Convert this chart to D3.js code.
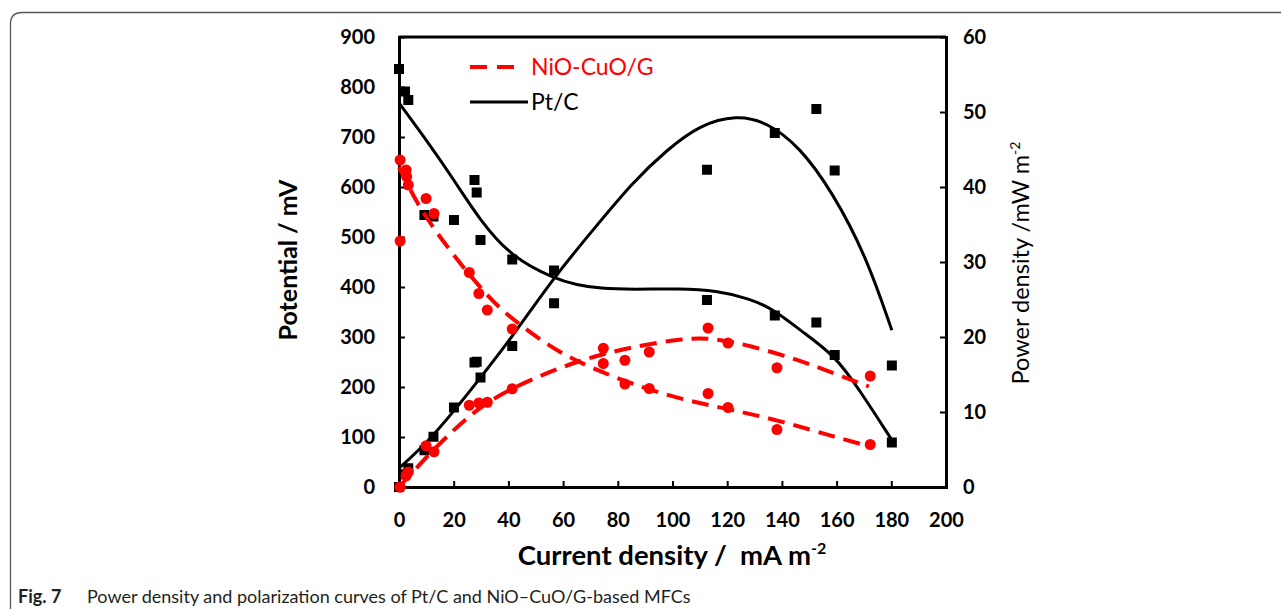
<!DOCTYPE html>
<html>
<head>
<meta charset="utf-8">
<script src="https://cdn.jsdelivr.net/npm/d3@7"></script>
<style>
  body { margin: 0; background: #fff; }
  svg { display: block; }
  text { font-family: Lato, "Open Sans", sans-serif; }
</style>
</head>
<body>
<svg id="chart" width="1281" height="609"></svg>
<script>
// Pt/C measured points (current density mA m-2, potential mV, power mW m-2)
const ptcCurrent   = [0, 2.2, 3.4, 9.3, 12.6, 20.1, 27.6, 28.4, 29.8, 41.4, 56.7, 112.6, 137.4, 152.6, 159.3, 180.2];
const ptcPotential = [836, 791, 774, 544, 541, 534, 614, 589, 494, 455, 433, 374, 343, 329, 264, 89];
const ptcPower     = [0, 1.7, 2.5, 4.9, 6.7, 10.6, 16.6, 16.7, 14.6, 18.8, 24.5, 42.3, 47.2, 50.4, 42.2, 16.2];

// NiO-CuO/G measured points
const nioCurrent   = [0.4, 0.4, 2.6, 2.8, 3.4, 9.9, 12.8, 25.7, 29.2, 32.3, 41.4, 74.7, 82.6, 91.5, 113, 120.3, 138.2, 172.3];
const nioPotential = [654, 492, 634, 621, 604, 577, 547, 429, 387, 354, 316, 247, 206, 197, 187, 159, 115, 85];
const nioPower     = [0, 0, 1.5, 1.7, 2.0, 5.5, 4.7, 10.9, 11.2, 11.3, 13.1, 18.5, 16.9, 18.0, 21.2, 19.2, 15.9, 14.8];

// trend lines: [current, value]
const ptcPotentialFit = [[0,768],[10,694],[20,615],[30,530],[41.4,459],[56.7,417],[65,404],[73.4,397],[85.6,395],[102.7,397],[116,393],[128.2,377],[137.4,354],[146.5,314],[159.3,264],[168.4,194],[180.2,94]];
const ptcPowerFit     = [[0,2.5],[10,5.8],[20.5,10.3],[29.2,14.3],[41.4,20.0],[56.7,28.0],[71,34.3],[85.6,40.7],[97.8,44.9],[110,48.3],[123.4,49.6],[134.3,48.7],[146.5,45.4],[158.7,39.2],[170.9,30.7],[180.2,20.9]];
const nioPotentialFit = [[0,640],[5.8,575],[12.5,518],[21.1,456],[28.4,407],[36.9,356],[46.7,314],[58.8,268],[71,237],[85.6,205],[103.9,174],[122.2,154],[140.4,131],[158.7,101],[172.3,81]];
const nioPowerFit     = [[0,0],[10,4.0],[19.9,7.6],[29.6,10.7],[41.4,13.2],[54,15.2],[65,16.7],[73.4,17.6],[85.6,18.7],[103.9,19.8],[113.6,19.9],[128.2,18.9],[146.5,16.9],[158.7,15.2],[171.8,13.4]];

const xTicks  = d3.range(0, 201, 20);
const yTicks  = d3.range(0, 901, 100);
const y2Ticks = d3.range(0, 61, 10);

const svg = d3.select("#chart");
const plotLeft = 399, plotRight = 946, plotTop = 37, plotBottom = 487;

const x  = d3.scaleLinear().domain([0, 200]).range([plotLeft, plotRight]);
const y  = d3.scaleLinear().domain([0, 900]).range([plotBottom, plotTop]);
const y2 = d3.scaleLinear().domain([0, 60]).range([plotBottom, plotTop]);

// outer figure frame (rounded corner, runs off page)
svg.append("path")
   .attr("d", "M10.5,609 V24 Q10.5,12.5 22,12.5 H1281")
   .attr("fill", "none")
   .attr("stroke", "#555")
   .attr("stroke-width", 1.3);

// top border of plot
svg.append("line")
   .attr("x1", plotLeft).attr("x2", plotRight)
   .attr("y1", plotTop).attr("y2", plotTop)
   .attr("stroke", "#000")
   .attr("stroke-width", 3);

const styleAxis = (g) => {
    g.attr("font-family", "Lato, sans-serif")
     .attr("font-size", 20)
     .attr("font-weight", "bold");
    g.select(".domain").attr("stroke-width", 3).attr("stroke-linecap", "square");
    g.selectAll(".tick line").attr("stroke-width", 2);
    g.selectAll(".tick text").attr("fill", "#000");
};

svg.append("g")
   .attr("transform", `translate(0,${plotBottom})`)
   .call(d3.axisBottom(x).tickValues(xTicks).tickSizeInner(-6).tickSizeOuter(0).tickPadding(26))
   .call(styleAxis);

svg.append("g")
   .attr("transform", `translate(${plotLeft},0)`)
   .call(d3.axisLeft(y).tickValues(yTicks).tickSizeInner(-6).tickSizeOuter(0).tickPadding(24))
   .call(styleAxis);

svg.append("g")
   .attr("transform", `translate(${plotRight},0)`)
   .call(d3.axisRight(y2).tickValues(y2Ticks).tickSizeInner(-6).tickSizeOuter(0).tickPadding(17))
   .call(styleAxis);

// axis titles
svg.append("text")
   .attr("transform", "translate(297,260) rotate(-90)")
   .attr("text-anchor", "middle")
   .attr("font-size", 25)
   .attr("font-weight", "bold")
   .text("Potential / mV");

const rTitle = svg.append("text")
   .attr("transform", "translate(1029,263) rotate(-90)")
   .attr("text-anchor", "middle")
   .attr("font-size", 23.5);
rTitle.append("tspan").text("Power density /mW m");
rTitle.append("tspan").attr("dy", -9).attr("font-size", 14).text("-2");

const xTitle = svg.append("text")
   .attr("x", 672).attr("y", 565)
   .attr("text-anchor", "middle")
   .attr("font-size", 27.5)
   .attr("font-weight", "bold")
   .style("white-space", "pre");
xTitle.append("tspan").text("Current density /  mA m");
xTitle.append("tspan").attr("dy", -11).attr("font-size", 16).text("-2");

// curves
const lineX = d3.line().x(d => x(d[0])).curve(d3.curveBasis);

svg.append("path")
   .attr("d", lineX.y(d => y(d[1]))(ptcPotentialFit))
   .attr("fill", "none").attr("stroke", "#000").attr("stroke-width", 3);

svg.append("path")
   .attr("d", lineX.y(d => y2(d[1]))(ptcPowerFit))
   .attr("fill", "none").attr("stroke", "#000").attr("stroke-width", 3);

// Pt/C markers
const ptc = ptcCurrent.map((c, i) => ({ c, v: ptcPotential[i], p: ptcPower[i] }));
svg.selectAll(".sq-v")
   .data(ptc)
   .enter()
   .append("rect")
   .attr("x", d => x(d.c) - 5).attr("y", d => y(d.v) - 5)
   .attr("width", 10).attr("height", 10)
   .attr("fill", "#000");
svg.selectAll(".sq-p")
   .data(ptc)
   .enter()
   .append("rect")
   .attr("x", d => x(d.c) - 5).attr("y", d => y2(d.p) - 5)
   .attr("width", 10).attr("height", 10)
   .attr("fill", "#000");

svg.append("path")
   .attr("d", lineX.y(d => y(d[1]))(nioPotentialFit))
   .attr("fill", "none").attr("stroke", "#ff0000").attr("stroke-width", 4)
   .attr("stroke-dasharray", "17,9");

svg.append("path")
   .attr("d", lineX.y(d => y2(d[1]))(nioPowerFit))
   .attr("fill", "none").attr("stroke", "#ff0000").attr("stroke-width", 4)
   .attr("stroke-dasharray", "17,9");

// NiO-CuO/G markers
const nio = nioCurrent.map((c, i) => ({ c, v: nioPotential[i], p: nioPower[i] }));
svg.selectAll(".ci-v")
   .data(nio)
   .enter()
   .append("circle")
   .attr("cx", d => x(d.c)).attr("cy", d => y(d.v))
   .attr("r", 5.5)
   .attr("fill", "#ff0000");
svg.selectAll(".ci-p")
   .data(nio)
   .enter()
   .append("circle")
   .attr("cx", d => x(d.c)).attr("cy", d => y2(d.p))
   .attr("r", 5.5)
   .attr("fill", "#ff0000");

// legend
const legend = svg.append("g");
legend.append("line")
      .attr("x1", 470).attr("x2", 515).attr("y1", 67).attr("y2", 67)
      .attr("stroke", "#ff0000").attr("stroke-width", 4)
      .attr("stroke-dasharray", "17,10");
legend.append("text")
      .attr("x", 531).attr("y", 75)
      .attr("font-size", 23)
      .attr("fill", "#ff0000")
      .text("NiO-CuO/G");
legend.append("line")
      .attr("x1", 470).attr("x2", 528).attr("y1", 102).attr("y2", 102)
      .attr("stroke", "#000").attr("stroke-width", 3);
legend.append("text")
      .attr("x", 531).attr("y", 110)
      .attr("font-size", 23)
      .attr("fill", "#000")
      .text("Pt/C");

// caption
const caption = svg.append("text")
   .attr("x", 18).attr("y", 603)
   .attr("font-size", 18)
   .attr("fill", "#231f20");
caption.append("tspan").attr("font-weight", "bold").text("Fig. 7");
caption.append("tspan").attr("x", 87).text("Power density and polarization curves of Pt/C and NiO\u2013CuO/G-based MFCs");
</script>
</body>
</html>
